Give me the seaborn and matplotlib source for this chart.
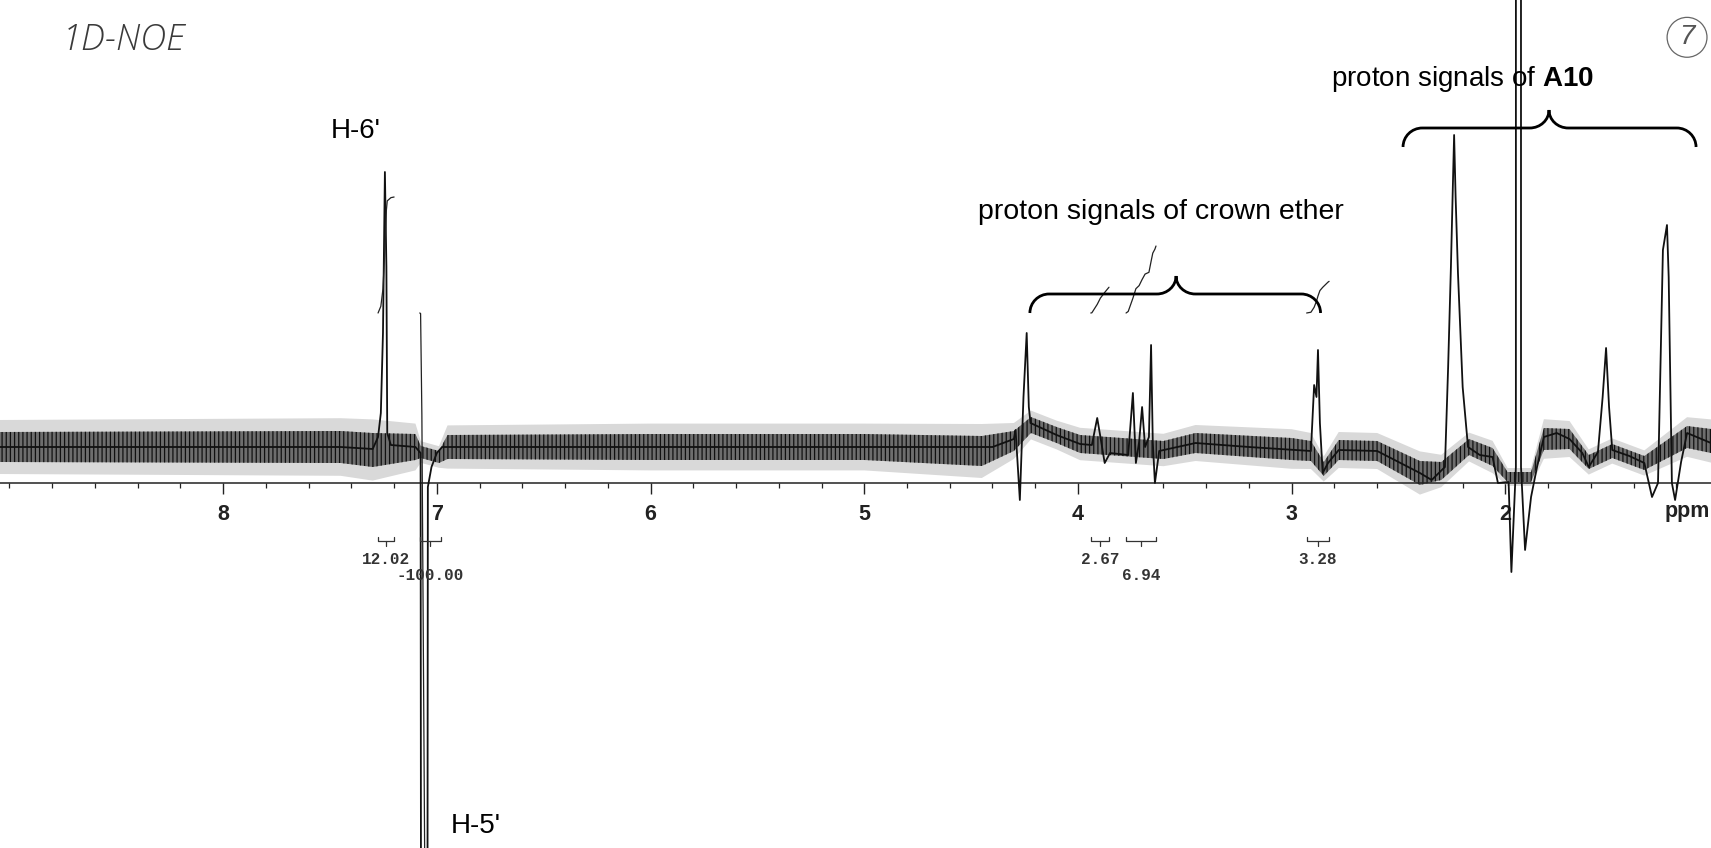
import numpy as np
import matplotlib
matplotlib.use("Agg")
import matplotlib.pyplot as plt
import seaborn as sns
from matplotlib.path import Path
from matplotlib.patches import PathPatch
from matplotlib.ticker import MultipleLocator, FixedLocator

# 1H spectrum trace: chemical shift (ppm) and intensity (arbitrary units)
trace_ppm = [9.05, 7.45, 7.30, 7.275, 7.262, 7.252, 7.243, 7.236, 7.232, 7.215,
             7.10, 7.076, 7.070, 7.048, 7.042, 7.025, 7.000, 6.975,
             4.40, 4.30, 4.292, 4.272, 4.255, 4.240, 4.230, 4.222, 4.10, 3.99,
             3.935, 3.910, 3.895, 3.875, 3.850,
             3.765, 3.743, 3.729, 3.714, 3.700, 3.686, 3.668, 3.658, 3.650, 3.640,
             3.620, 3.45, 3.20,
             2.910, 2.895, 2.884, 2.877, 2.868, 2.855, 2.830, 2.780,
             2.600, 2.500, 2.400, 2.345,
             2.283, 2.268, 2.255, 2.246, 2.240, 2.233, 2.222, 2.200, 2.175,
             2.120, 2.060, 2.035, 1.985, 1.972, 1.951, 1.950, 1.928, 1.927,
             1.908, 1.880, 1.852, 1.820, 1.760, 1.700, 1.640, 1.610,
             1.567, 1.545, 1.529, 1.515, 1.500, 1.420, 1.350, 1.314,
             1.286, 1.263, 1.244, 1.236, 1.221, 1.206, 1.178, 1.150, 1.038]
trace_int = [0.0, 0.0, -0.2, 1.0, 3.4, 11.4, 27.5, 18.0, 1.4, 0.2,
             0.0, -0.6, -150.0, -150.0, -4.0, -2.0, -0.6, 0.0,
             0.0, 0.8, 1.7, -5.3, 5.0, 11.4, 4.0, 2.4, 1.2, 0.3,
             0.2, 2.9, 1.0, -1.6, -0.6,
             -0.8, 5.4, -1.6, 0.5, 4.0, 0.0, 1.0, 10.2, 0.5, -3.6,
             -0.4, 0.4, 0.0,
             -0.4, 6.2, 5.0, 9.7, 2.4, -2.6, -1.6, -0.3,
             -0.4, -1.5, -2.6, -3.3,
             -2.0, 8.0, 18.0, 26.0, 31.2, 25.0, 17.4, 6.0, 0.0,
             -0.8, -1.0, -3.6, -3.5, -12.5, -2.0, 400.0, 400.0, -2.0,
             -10.3, -5.0, -2.0, 1.0, 1.4, 0.8, -0.6, -2.0,
             -0.5, 5.0, 9.9, 4.0, -0.3, -0.9, -1.6, -5.0,
             -3.6, 19.7, 22.2, 17.0, -3.6, -5.3, -1.5, 1.4, 0.4]

# baseline noise band: centre and half-width along the spectrum
band_ppm = [9.05, 7.45, 7.30, 7.10, 7.075, 6.99, 6.95, 6.00, 5.00, 4.45, 4.30,
            4.22, 4.10, 3.99, 3.60, 3.45, 3.00, 2.91, 2.85, 2.78, 2.60, 2.40,
            2.30, 2.17, 2.06, 1.99, 1.88, 1.82, 1.70, 1.61, 1.50, 1.35, 1.15, 1.038]
band_mid = [0.0, 0.0, -0.3, 0.0, -0.5, -1.0, 0.0, 0.0, 0.0, -0.4, 0.6,
            2.2, 1.2, 0.3, -0.3, 0.4, -0.2, -0.4, -2.2, -0.3, -0.4, -2.6,
            -2.4, 0.0, -1.0, -3.0, -3.0, 0.8, 0.8, -1.5, -0.4, -1.6, 1.0, 0.6]
band_half = [1.5, 1.6, 1.7, 1.3, 0.6, 0.6, 1.2, 1.3, 1.3, 1.5, 1.0,
             0.8, 0.8, 0.9, 0.9, 1.0, 1.1, 1.0, 0.7, 1.0, 1.0, 1.2,
             0.9, 0.8, 0.9, 0.5, 0.5, 1.1, 1.0, 0.7, 0.7, 0.7, 1.1, 1.2]

# integrated regions (start ppm, end ppm) and their integral values
integral_start = [7.275, 7.08, 3.94, 3.775, 2.93]
integral_end = [7.20, 6.98, 3.855, 3.635, 2.825]
integral_value = [12.02, -100.00, 2.67, 6.94, 3.28]

# chemical shift axis
major_ticks = [8, 7, 6, 5, 4, 3, 2]
axis_unit = "ppm"

# assignments
label_h6 = "H-6'"
label_h5 = "H-5'"
label_crown = "proton signals of crown ether"
label_a10 = r"proton signals of $\mathbf{A10}$"
note_title = "1D-NOE"
note_page = "7"

sns.set_theme(style="white")
plt.rcParams["font.family"] = ["Liberation Sans", "DejaVu Sans"]
plt.rcParams["mathtext.fontset"] = "custom"
plt.rcParams["mathtext.rm"] = "Liberation Sans"
plt.rcParams["mathtext.bf"] = "Liberation Sans:bold"
plt.rcParams["hatch.linewidth"] = 0.9

fig = plt.figure(figsize=(17.11, 8.48), dpi=100)
ax = fig.add_axes([0, 0, 1, 1])
ax.set_facecolor("white")
ax.set_xlim(9.044, 1.038)
ax.set_ylim(-40.1, 44.7)

# noise band: faint outer spikes and a dense dark core
mid = np.array(band_mid)
half = np.array(band_half)
ax.fill_between(band_ppm, mid - 1.8 * half, mid + 1.8 * half, facecolor="#d9d9d9",
                edgecolor="none", linewidth=0, zorder=1)
ax.fill_between(band_ppm, mid - half, mid + half, facecolor="#6e6e6e",
                edgecolor="#111111", hatch="||||", linewidth=0, zorder=2)

# spectrum trace
sns.lineplot(x=trace_ppm, y=trace_int, sort=False, estimator=None, color="#111111",
             linewidth=1.3, ax=ax, zorder=3)

# integral curves, brackets and values
tp = np.array(trace_ppm)
ti = np.array(trace_int)
integral_base = 13.4
integral_scale = 0.965
prev_center = None
prev_row = 0
for start, end, val in zip(integral_start, integral_end, integral_value):
    inside = (tp < start) & (tp > end)
    xs = np.concatenate([[start], tp[inside], [end]])
    ys = np.concatenate([[np.interp(start, tp[::-1], ti[::-1])], ti[inside],
                         [np.interp(end, tp[::-1], ti[::-1])]])
    seg = np.abs(ys)
    area = np.concatenate([[0], np.cumsum(0.5 * (seg[1:] + seg[:-1]) * np.abs(np.diff(xs)))])
    frac = area / area[-1]
    ax.plot(xs, integral_base + val * integral_scale * frac, color="#222222",
            linewidth=0.9, zorder=3)

    center = 0.5 * (start + end)
    yb = -9.4
    ax.plot([start, start, end, end], [yb + 0.4, yb, yb, yb + 0.4], color="#333333",
            linewidth=0.9, zorder=3)
    ax.plot([center, center], [yb, yb - 0.5], color="#333333", linewidth=0.9, zorder=3)
    row = 0
    if prev_center is not None and prev_center - center < 0.25 and prev_row == 0:
        row = 1
    ax.text(center, -11.3 - 1.6 * row, f"{val:.2f}", ha="center", va="center",
            family="Liberation Mono", fontweight="bold", fontsize=11.5, color="#333333")
    prev_center, prev_row = center, row

# chemical shift axis
for side in ("left", "right", "top"):
    ax.spines[side].set_visible(False)
ax.spines["bottom"].set_position(("data", -3.6))
ax.spines["bottom"].set_linewidth(1.1)
ax.spines["bottom"].set_color("#222222")
ax.xaxis.set_major_locator(FixedLocator(major_ticks))
ax.set_xticklabels([str(t) for t in major_ticks])
ax.xaxis.set_minor_locator(MultipleLocator(0.2))
ax.tick_params(axis="x", which="major", direction="out", length=8, width=1.0,
               pad=7, labelsize=15.5, colors="#222222", bottom=True)
ax.tick_params(axis="x", which="minor", direction="out", length=3.6, width=0.9,
               colors="#222222", bottom=True)
for lab in ax.get_xticklabels():
    lab.set_fontweight("bold")
ax.set_yticks([])
ax.text(1.043, -6.4, axis_unit, ha="right", va="center", fontsize=15.5,
        fontweight="bold", color="#222222")


def curly_brace(ax, x0, x1, xm, y_end, y_bar, y_tip, dx):
    k = 0.552
    verts = [(x0, y_end),
             (x0, y_end + k * (y_bar - y_end)), (x0 - (1 - k) * dx, y_bar), (x0 - dx, y_bar),
             (xm + dx, y_bar),
             (xm + (1 - k) * dx, y_bar), (xm, y_tip - k * (y_tip - y_bar)), (xm, y_tip),
             (xm, y_tip - k * (y_tip - y_bar)), (xm - (1 - k) * dx, y_bar), (xm - dx, y_bar),
             (x1 + dx, y_bar),
             (x1 + (1 - k) * dx, y_bar), (x1, y_end + k * (y_bar - y_end)), (x1, y_end)]
    codes = [Path.MOVETO,
             Path.CURVE4, Path.CURVE4, Path.CURVE4,
             Path.LINETO,
             Path.CURVE4, Path.CURVE4, Path.CURVE4,
             Path.CURVE4, Path.CURVE4, Path.CURVE4,
             Path.LINETO,
             Path.CURVE4, Path.CURVE4, Path.CURVE4]
    ax.add_patch(PathPatch(Path(verts, codes), facecolor="none", edgecolor="black",
                           linewidth=2.0, zorder=4))


curly_brace(ax, 4.225, 2.865, 3.541, 13.4, 15.3, 17.1, 0.09)
curly_brace(ax, 2.479, 1.108, 1.796, 30.0, 31.9, 33.7, 0.09)

ax.text(7.38, 31.6, label_h6, ha="center", va="center", fontsize=20, color="black")
ax.text(6.82, -37.9, label_h5, ha="center", va="center", fontsize=20, color="black")
ax.text(3.61, 23.5, label_crown, ha="center", va="center", fontsize=20.5, color="black")
ax.text(2.198, 36.8, label_a10, ha="center", va="center", fontsize=20, color="black")

# handwritten notes on the sheet
ax.text(0.072, 0.953, note_title, transform=ax.transAxes, ha="center", va="center",
        fontsize=26, fontstyle="italic", family=["Open Sans", "DejaVu Sans"],
        fontweight="light", color="#3a3a3a")
ax.text(0.986, 0.956, note_page, transform=ax.transAxes, ha="center", va="center",
        fontsize=20, fontstyle="italic", fontweight="light", color="#555555",
        bbox=dict(boxstyle="circle,pad=0.25", facecolor="none", edgecolor="#666666",
                  linewidth=0.9))

fig.savefig("out.png", dpi=100, facecolor="white")
